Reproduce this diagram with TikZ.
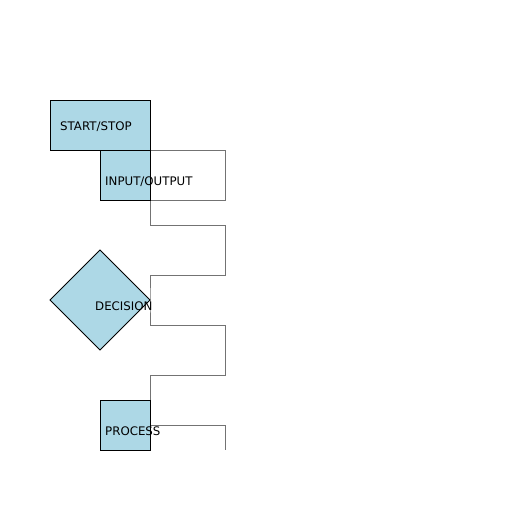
\documentclass[tikz,border=0pt]{standalone}
\usepackage{fontspec}
\setmainfont{DejaVu Sans}
\usetikzlibrary{shapes.geometric,positioning,backgrounds}
\definecolor{lightblue}{HTML}{ADD8E6}

\begin{document}
\begin{tikzpicture}[x=1pt, y=-1pt,
		basic/.style  = {draw, fill=lightblue, line width=1pt, inner sep=0pt, outer sep=0pt},
		box/.style    = {basic, rectangle, minimum width=#1, minimum height=50pt},
		choice/.style = {basic, diamond, minimum width=100pt, minimum height=100pt},
		tag/.style    = {anchor=base west, inner sep=0pt, font=\fontsize{11.8}{13}\selectfont},
		link/.style   = {draw, black!55, line width=1pt}]
		
		\useasboundingbox (0,0) rectangle (512,512);
		
		% Shapes of the chart
		\node[box=100pt] (start) at (100,125) {};
		\node[box=50pt]  (io)    at (125,175) {};
		\node[choice]    (dec)   at (100,300) {};
		\node[box=50pt]  (proc)  at (125,425) {};
		
		% Labels, placed at coordinates
		\node[tag] (startlbl) at (60,130)  {START/STOP};
		\node[tag] (iolbl)    at (105,185) {INPUT/OUTPUT};
		\node[tag] (declbl)   at (95,310)  {DECISION};
		\node[tag] (proclbl)  at (105,435) {PROCESS};
		
		% Free end of the line
		\coordinate (tail) at (225,450);
		
		% Zigzag line behind the shapes
		\begin{scope}[on background layer]
			\draw[link] (start.south east) -- ++(75,0) -- ++(0,50) -- (io.south east)
			-- ++(0,25) -- ++(75,0) -- ++(0,50) -- ++(-75,0) -- (dec.east)
			-- ++(0,25) -- ++(75,0) -- ++(0,50) -- ++(-75,0) -- (proc.east)
			-- ++(75,0) -- (tail);
		\end{scope}
		
	\end{tikzpicture}
\end{document}
